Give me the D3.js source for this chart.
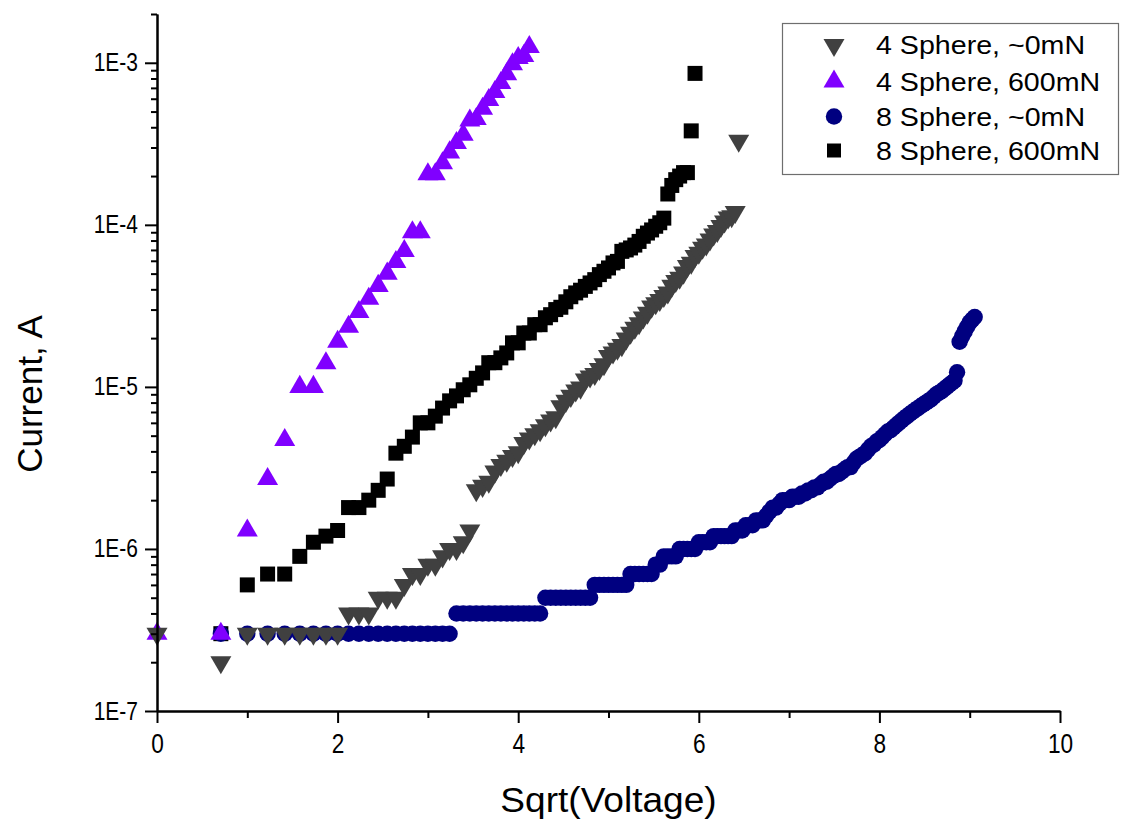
<!DOCTYPE html>
<html>
<head>
<meta charset="utf-8">
<script src="https://cdn.jsdelivr.net/npm/d3@7"></script>
<style>
  body { margin: 0; background: #ffffff; }
  text { font-family: "Liberation Sans", Arial, sans-serif; fill: #000; }
</style>
</head>
<body>
<svg id="chart" width="1133" height="823"></svg>
<script>
// Applied voltage steps (V); the horizontal axis shows sqrt(V)
const voltage = [0,0.5,1,1.5,2,2.5,3,3.5,4,4.5,5,5.5,6,6.5,7,7.5,8,8.5,9,9.5,10,10.5,11,11.5,12,12.5,13,13.5,14,14.5,15,15.5,16,16.5,17,17.5,18,18.5,19,19.5,20,20.5,21,21.5,22,22.5,23,23.5,24,24.5,25,25.5,26,26.5,27,27.5,28,28.5,29,29.5,30,30.5,31,31.5,32,32.5,33,33.5,34,34.5,35,35.5,36,36.5,37,37.5,38,38.5,39,39.5,40,40.5,41,41.5,42,42.5,43,43.5,44,44.5,45,45.5,46,46.5,47,47.5,48,48.5,49,49.5,50,50.5,51,51.5,52,52.5,53,53.5,54,54.5,55,55.5,56,56.5,57,57.5,58,58.5,59,59.5,60,60.5,61,61.5,62,62.5,63,63.5,64,64.5,65,65.5,66,66.5,67,67.5,68,68.5,69,69.5,70,70.5,71,71.5,72,72.5,73,73.5,74,74.5,75,75.5,76,76.5,77,77.5,78,78.5,79,79.5,80,80.5,81,81.5,82];

// Measured current (A) at each voltage step; null = no reading
const current4Sphere0mN = [3e-7,2e-7,3e-7,3e-7,3e-7,3e-7,3e-7,3e-7,3e-7,4e-7,4e-7,4e-7,5e-7,5e-7,5e-7,6e-7,7e-7,7e-7,8e-7,8e-7,9e-7,1.0e-6,1.0e-6,1.1e-6,1.3e-6,2.3e-6,2.45e-6,2.6e-6,3.0e-6,3.3e-6,3.5e-6,3.75e-6,3.95e-6,4.5e-6,4.8e-6,5.1e-6,5.4e-6,5.8e-6,6.2e-6,6.5e-6,7.6e-6,8.2e-6,8.8e-6,9.5e-6,9.9e-6,1.11e-5,1.16e-5,1.2e-5,1.29e-5,1.38e-5,1.55e-5,1.63e-5,1.72e-5,1.81e-5,1.99e-5,2.16e-5,2.32e-5,2.47e-5,2.68e-5,2.87e-5,3.13e-5,3.28e-5,3.44e-5,3.64e-5,3.82e-5,4.2e-5,4.5e-5,4.72e-5,5.07e-5,5.57e-5,5.84e-5,6.42e-5,6.73e-5,7.22e-5,7.57e-5,8.13e-5,8.73e-5,9.16e-5,9.84e-5,1.05e-4,1.11e-4,1.13e-4,1.2e-4,3.3e-4];

const current4Sphere600mN = [3e-7,3e-7,1.3e-6,2.7e-6,4.7e-6,1.0e-5,1.0e-5,1.4e-5,1.9e-5,2.35e-5,2.9e-5,3.5e-5,4.2e-5,5.0e-5,5.9e-5,6.9e-5,9.0e-5,9.0e-5,2.05e-4,2.05e-4,2.4e-4,2.8e-4,3.2e-4,3.6e-4,4.4e-4,4.5e-4,5.2e-4,5.9e-4,6.6e-4,7.5e-4,8.5e-4,9.8e-4,1.07e-3,1.1e-3,1.25e-3];

const current8Sphere0mN = [null,
  3e-7,3e-7,3e-7,3e-7,3e-7,3e-7,3e-7,3e-7,3e-7,3e-7,3e-7,3e-7,3e-7,3e-7,3e-7,3e-7,3e-7,3e-7,3e-7,3e-7,3e-7,
  4e-7,4e-7,4e-7,4e-7,4e-7,4e-7,4e-7,4e-7,4e-7,4e-7,4e-7,4e-7,4e-7,4e-7,4e-7,
  5e-7,5e-7,5e-7,5e-7,5e-7,5e-7,5e-7,5e-7,5e-7,5e-7,
  6e-7,6e-7,6e-7,6e-7,6e-7,6e-7,6e-7,6e-7,
  7e-7,7e-7,7e-7,7e-7,7e-7,7e-7,
  8e-7,8e-7,
  9e-7,9e-7,9e-7,9e-7,
  1.0e-6,1.0e-6,1.0e-6,1.0e-6,1.0e-6,
  1.1e-6,1.1e-6,1.1e-6,1.1e-6,
  1.2e-6,1.2e-6,1.2e-6,1.2e-6,1.2e-6,1.2e-6,
  1.3e-6,1.3e-6,1.3e-6,
  1.4e-6,1.4e-6,1.4e-6,
  1.5e-6,1.5e-6,1.5e-6,
  1.6e-6,1.7e-6,1.8e-6,1.8e-6,1.9e-6,2.0e-6,2.0e-6,2.0e-6,2.1e-6,
  2.1e-6,2.1e-6,2.2e-6,2.2e-6,2.3e-6,2.3e-6,2.4e-6,2.4e-6,2.5e-6,2.6e-6,
  2.6e-6,2.7e-6,2.8e-6,2.9e-6,2.9e-6,3.0e-6,3.1e-6,3.2e-6,3.2e-6,3.4e-6,
  3.6e-6,3.7e-6,3.8e-6,3.9e-6,4.1e-6,4.3e-6,4.4e-6,4.6e-6,4.7e-6,4.9e-6,
  5.1e-6,5.3e-6,5.4e-6,5.6e-6,5.8e-6,6.0e-6,6.2e-6,6.4e-6,6.6e-6,6.8e-6,
  7.0e-6,7.2e-6,7.4e-6,7.6e-6,7.8e-6,8.0e-6,8.2e-6,8.4e-6,8.7e-6,9.0e-6,
  9.2e-6,9.4e-6,9.7e-6,1.0e-5,1.03e-5,1.06e-5,1.09e-5,1.23e-5,1.9e-5,2.05e-5,
  2.2e-5,2.35e-5,2.5e-5,2.6e-5,2.7e-5];

const current8Sphere600mN = [null,3e-7,6e-7,7e-7,7e-7,9e-7,1.1e-6,1.2e-6,1.3e-6,1.8e-6,1.8e-6,2.0e-6,2.3e-6,2.7e-6,3.9e-6,4.3e-6,4.9e-6,6.0e-6,6.0e-6,6.6e-6,7.4e-6,8.2e-6,8.8e-6,9.6e-6,1.03e-5,1.13e-5,1.22e-5,1.41e-5,1.41e-5,1.51e-5,1.62e-5,1.87e-5,1.87e-5,2.15e-5,2.15e-5,2.42e-5,2.42e-5,2.67e-5,2.79e-5,3.0e-5,3.1e-5,3.35e-5,3.6e-5,3.8e-5,3.95e-5,4.17e-5,4.38e-5,4.59e-5,4.93e-5,5.17e-5,5.42e-5,5.82e-5,5.95e-5,6.86e-5,7.0e-5,7.2e-5,7.5e-5,7.9e-5,8.5e-5,8.9e-5,9.3e-5,9.8e-5,1.03e-4,1.1e-4,1.55e-4,1.75e-4,1.9e-4,2.0e-4,2.1e-4,2.1e-4,3.8e-4,8.6e-4];

const seriesNames = ["4 Sphere, ~0mN", "4 Sphere, 600mN", "8 Sphere, ~0mN", "8 Sphere, 600mN"];
const seriesColors = ["#404040", "#8000ff", "#000080", "#000000"];
const seriesShapes = ["triangleDown", "triangleUp", "circle", "square"];
const seriesCurrents = [current4Sphere0mN, current4Sphere600mN, current8Sphere0mN, current8Sphere600mN];

const xTickValues = [0, 2, 4, 6, 8, 10];
const xMinorValues = [1, 3, 5, 7, 9];
const yTickValues = [1e-7, 1e-6, 1e-5, 1e-4, 1e-3];
const yTickLabels = ["1E-7", "1E-6", "1E-5", "1E-4", "1E-3"];

const xTitle = "Sqrt(Voltage)";
const yTitle = "Current, A";

const svg = d3.select("#chart");

const x = d3.scaleLinear().domain([0, 10]).range([157, 1060]);
const y = d3.scaleLog().domain([1e-7, 2e-3]).range([711, 14]);

// Marker path generators, centred on the data point
function markerPath(shape, s) {
  if (shape === "circle") {
    const r = s / 2;
    return `M${-r},0A${r},${r} 0 1,0 ${r},0A${r},${r} 0 1,0 ${-r},0Z`;
  }
  if (shape === "square") {
    const h = s / 2;
    return `M${-h},${-h}H${h}V${h}H${-h}Z`;
  }
  const w = s / 2, ht = s * 0.86;
  if (shape === "triangleUp") {
    return `M0,${-ht * 2 / 3}L${w},${ht / 3}L${-w},${ht / 3}Z`;
  }
  return `M0,${ht * 2 / 3}L${w},${-ht / 3}L${-w},${-ht / 3}Z`;
}
const markerSize = { circle: 16.4, square: 15, triangleUp: 21, triangleDown: 21 };

// Scatter markers: later series drawn first so the ~0mN triangles sit on top
const drawOrder = [3, 2, 1, 0];
const plot = svg.append("g");
drawOrder.forEach(si => {
  const pts = seriesCurrents[si]
    .map((c, i) => ({ v: voltage[i], c }))
    .filter(d => d.c !== null);
  plot.append("g")
    .selectAll("path")
    .data(pts)
    .join("path")
    .attr("transform", d => `translate(${x(Math.sqrt(d.v))},${y(d.c)})`)
    .attr("d", markerPath(seriesShapes[si], markerSize[seriesShapes[si]]))
    .attr("fill", seriesColors[si]);
});

// Axes
const axisG = svg.append("g").attr("class", "axes");

const yMinor = [];
for (let e = -7; e <= -3; e++) {
  for (let m = 2; m <= 9; m++) {
    const v = m * Math.pow(10, e);
    if (v <= 2e-3) yMinor.push(v);
  }
}

const tickSqueeze = 0.84;

axisG.append("g")
  .attr("transform", "translate(157,0)")
  .call(d3.axisLeft(y).tickValues(yMinor).tickSize(6).tickSizeOuter(0).tickFormat(""));
const leftMajor = axisG.append("g")
  .attr("transform", "translate(157,0)")
  .call(d3.axisLeft(y).tickValues(yTickValues).tickSize(12).tickSizeOuter(0).tickPadding(7)
    .tickFormat((d, i) => yTickLabels[i]));

axisG.append("g")
  .attr("transform", "translate(0,711)")
  .call(d3.axisBottom(x).tickValues(xMinorValues).tickSize(7).tickSizeOuter(0).tickFormat(""));
const bottomMajor = axisG.append("g")
  .attr("transform", "translate(0,711)")
  .call(d3.axisBottom(x).tickValues(xTickValues).tickSize(12).tickSizeOuter(0).tickPadding(11)
    .tickFormat(d3.format("d")));

axisG.selectAll(".domain").attr("stroke", "#000").attr("stroke-width", 2);
axisG.selectAll(".tick line").attr("stroke", "#000").attr("stroke-width", 2);
axisG.selectAll(".tick text")
  .attr("fill", "#000")
  .style("font-family", "'Liberation Sans', Arial, sans-serif");

// Narrow tick lettering: squeeze horizontally while keeping anchor positions
leftMajor.selectAll(".tick text")
  .style("font-size", "25px")
  .attr("x", -19 / tickSqueeze)
  .attr("transform", `scale(${tickSqueeze},1)`);
bottomMajor.selectAll(".tick text")
  .style("font-size", "27px")
  .attr("transform", `scale(${tickSqueeze},1)`);

// Axis titles
svg.append("text")
  .attr("transform", `translate(${x(5)},812) scale(1.06,1)`)
  .attr("text-anchor", "middle")
  .style("font-size", "35px")
  .text(xTitle);

svg.append("text")
  .attr("transform", "translate(42,394) rotate(-90)")
  .attr("text-anchor", "middle")
  .style("font-size", "35px")
  .text(yTitle);

// Legend
const legend = svg.append("g").attr("transform", "translate(782,23)");
legend.append("rect")
  .attr("x", 0.5).attr("y", 0.5)
  .attr("width", 336).attr("height", 151)
  .attr("fill", "#fff")
  .attr("stroke", "#6e6e6e")
  .attr("stroke-width", 1.2);

const rowY = [22, 58.5, 93.5, 127.5];
seriesNames.forEach((name, i) => {
  const g = legend.append("g").attr("transform", `translate(0,${rowY[i]})`);
  const shape = seriesShapes[i];
  g.append("path")
    .attr("transform", "translate(52,0)")
    .attr("d", markerPath(shape, shape === "square" ? 14 : markerSize[shape]))
    .attr("fill", seriesColors[i]);
  g.append("text")
    .attr("transform", "translate(94,0) scale(1.1,1)")
    .attr("dy", "0.36em")
    .style("font-size", "26px")
    .text(name);
});
</script>
</body>
</html>
